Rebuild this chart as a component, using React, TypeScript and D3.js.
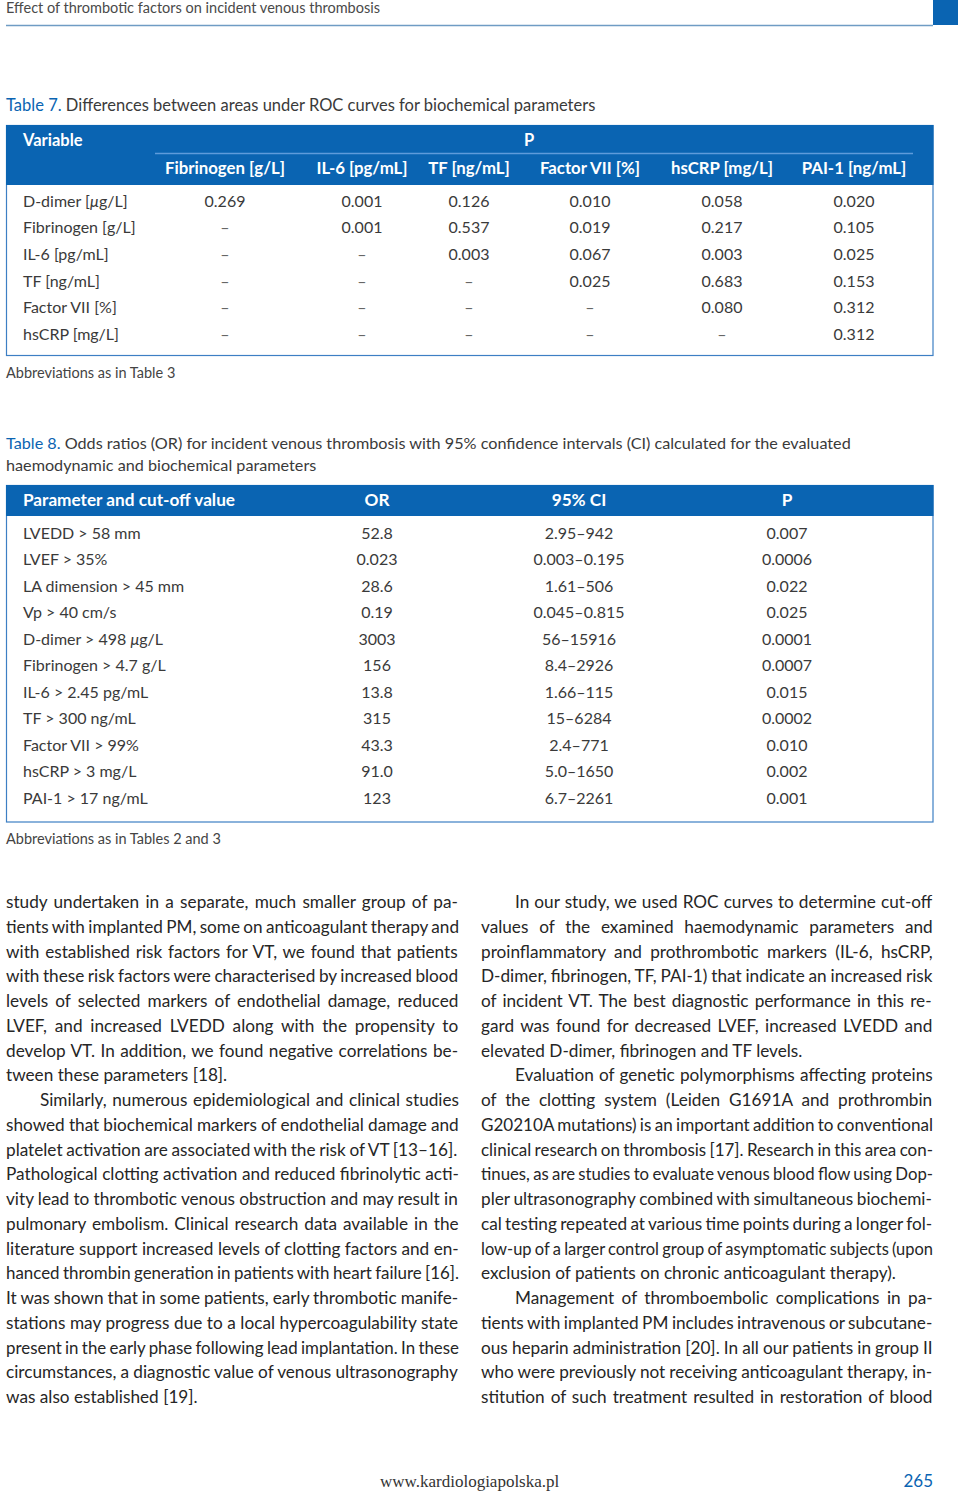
import React from "react";
import * as d3 from "d3";

// ---------- data ----------
const runningHead = "Effect of thrombotic factors on incident venous thrombosis";

const t7Label = "Table 7.";
const t7Title = "Differences between areas under ROC curves for biochemical parameters";
const t7Columns = ["Fibrinogen [g/L]", "IL-6 [pg/mL]", "TF [ng/mL]", "Factor VII [%]", "hsCRP [mg/L]", "PAI-1 [ng/mL]"];
const t7Rows = ["D-dimer [μg/L]", "Fibrinogen [g/L]", "IL-6 [pg/mL]", "TF [ng/mL]", "Factor VII [%]", "hsCRP [mg/L]"];
const t7Values = [
  ["0.269", "0.001", "0.126", "0.010", "0.058", "0.020"],
  ["–", "0.001", "0.537", "0.019", "0.217", "0.105"],
  ["–", "–", "0.003", "0.067", "0.003", "0.025"],
  ["–", "–", "–", "0.025", "0.683", "0.153"],
  ["–", "–", "–", "–", "0.080", "0.312"],
  ["–", "–", "–", "–", "–", "0.312"],
];
const t7Note = "Abbreviations as in Table 3";

const t8Label = "Table 8.";
const t8TitleLines = [
  "Odds ratios (OR) for incident venous thrombosis with 95% confidence intervals (CI) calculated for the evaluated",
  "haemodynamic and biochemical parameters",
];
const t8Headers = ["Parameter and cut-off value", "OR", "95% CI", "P"];
const t8Params = [
  "LVEDD > 58 mm", "LVEF > 35%", "LA dimension > 45 mm", "Vp > 40 cm/s", "D-dimer > 498 μg/L",
  "Fibrinogen > 4.7 g/L", "IL-6 > 2.45 pg/mL", "TF > 300 ng/mL", "Factor VII > 99%", "hsCRP > 3 mg/L", "PAI-1 > 17 ng/mL",
];
const t8OR = ["52.8", "0.023", "28.6", "0.19", "3003", "156", "13.8", "315", "43.3", "91.0", "123"];
const t8CI = ["2.95–942", "0.003–0.195", "1.61–506", "0.045–0.815", "56–15916", "8.4–2926", "1.66–115", "15–6284", "2.4–771", "5.0–1650", "6.7–2261"];
const t8P = ["0.007", "0.0006", "0.022", "0.025", "0.0001", "0.0007", "0.015", "0.0002", "0.010", "0.002", "0.001"];
const t8Note = "Abbreviations as in Tables 2 and 3";

// body text lines: [text, indent, lastLineOfParagraph]
const leftLines: [string, boolean, boolean][] = [
  ["study undertaken in a separate, much smaller group of pa-", false, false],
  ["tients with implanted PM, some on anticoagulant therapy and", false, false],
  ["with established risk factors for VT, we found that patients", false, false],
  ["with these risk factors were characterised by increased blood", false, false],
  ["levels of selected markers of endothelial damage, reduced", false, false],
  ["LVEF, and increased LVEDD along with the propensity to", false, false],
  ["develop VT. In addition, we found negative correlations be-", false, false],
  ["tween these parameters [18].", false, true],
  ["Similarly, numerous epidemiological and clinical studies", true, false],
  ["showed that biochemical markers of endothelial damage and", false, false],
  ["platelet activation are associated with the risk of VT [13–16].", false, false],
  ["Pathological clotting activation and reduced fibrinolytic acti-", false, false],
  ["vity lead to thrombotic venous obstruction and may result in", false, false],
  ["pulmonary embolism. Clinical research data available in the", false, false],
  ["literature support increased levels of clotting factors and en-", false, false],
  ["hanced thrombin generation in patients with heart failure [16].", false, false],
  ["It was shown that in some patients, early thrombotic manife-", false, false],
  ["stations may progress due to a local hypercoagulability state", false, false],
  ["present in the early phase following lead implantation. In these", false, false],
  ["circumstances, a diagnostic value of venous ultrasonography", false, false],
  ["was also established [19].", false, true],
];
const rightLines: [string, boolean, boolean][] = [
  ["In our study, we used ROC curves to determine cut-off", true, false],
  ["values of the examined haemodynamic parameters and", false, false],
  ["proinflammatory and prothrombotic markers (IL-6, hsCRP,", false, false],
  ["D-dimer, fibrinogen, TF, PAI-1) that indicate an increased risk", false, false],
  ["of incident VT. The best diagnostic performance in this re-", false, false],
  ["gard was found for decreased LVEF, increased LVEDD and", false, false],
  ["elevated D-dimer, fibrinogen and TF levels.", false, true],
  ["Evaluation of genetic polymorphisms affecting proteins", true, false],
  ["of the clotting system (Leiden G1691A and prothrombin", false, false],
  ["G20210A mutations) is an important addition to conventional", false, false],
  ["clinical research on thrombosis [17]. Research in this area con-", false, false],
  ["tinues, as are studies to evaluate venous blood flow using Dop-", false, false],
  ["pler ultrasonography combined with simultaneous biochemi-", false, false],
  ["cal testing repeated at various time points during a longer fol-", false, false],
  ["low-up of a larger control group of asymptomatic subjects (upon", false, false],
  ["exclusion of patients on chronic anticoagulant therapy).", false, true],
  ["Management of thromboembolic complications in pa-", true, false],
  ["tients with implanted PM includes intravenous or subcutane-", false, false],
  ["ous heparin administration [20]. In all our patients in group II", false, false],
  ["who were previously not receiving anticoagulant therapy, in-", false, false],
  ["stitution of such treatment resulted in restoration of blood", false, false],
];
const footerUrl = "www.kardiologiapolska.pl";
const pageNumber = "265";

// ---------- style ----------
const BLUE = "#0a64b2";
const TEXT = "#3a3a3a";
const BODY = "#262626";
const SANS = "Lato, 'Open Sans', sans-serif";
const BODY_SIZE = 17.2;
const MIN_WS = 2.2;

let _ctx: CanvasRenderingContext2D | null = null;
function measure(text: string, font: string): number {
  if (!_ctx) _ctx = document.createElement("canvas").getContext("2d");
  if (!_ctx) return text.length * 8;
  _ctx.font = font;
  return _ctx.measureText(text).width;
}

function MuText({ s }: { s: string }) {
  const parts = s.split("μ");
  return (
    <>
      {parts.map((p, i) => (
        <React.Fragment key={i}>
          {i > 0 && <tspan fontStyle="italic">μ</tspan>}
          {p}
        </React.Fragment>
      ))}
    </>
  );
}

function Column({ lines, x0, x1, indent }: { lines: [string, boolean, boolean][]; x0: number; x1: number; indent: number }) {
  const y = d3.scaleLinear().domain([0, lines.length - 1]).range([908, 1403]);
  const font = `${BODY_SIZE}px Lato`;
  return (
    <g fontFamily={SANS} fontSize={BODY_SIZE} fill={BODY}>
      {lines.map(([t, ind, last], i) => {
        const xs = ind ? x0 + indent : x0;
        const target = x1 - xs;
        if (last) {
          return <text key={i} x={xs} y={y(i)}>{t}</text>;
        }
        const nat = measure(t, font);
        const spaces = (t.match(/ /g) || []).length;
        const ws = spaces > 0 ? (target - nat) / spaces : 0;
        if (ws >= MIN_WS - 4.3 && ws >= -1.2) {
          return (
            <text key={i} x={xs} y={y(i)} style={{ wordSpacing: `${ws}px` }}>
              {t}
            </text>
          );
        }
        // too long: keep a small word spacing and compress glyphs slightly
        return (
          <text key={i} x={xs} y={y(i)} style={{ wordSpacing: "-1px" }} textLength={target} lengthAdjust="spacingAndGlyphs">
            {t}
          </text>
        );
      })}
    </g>
  );
}

export default function App() {
  // Table 7 scales
  const x7 = d3.scaleOrdinal<string, number>().domain(t7Columns).range([225, 362, 469, 590, 722, 854]);
  const y7 = d3.scaleLinear().domain([0, t7Rows.length - 1]).range([206.7, 340]);
  // Table 8 scales
  const x8 = d3.scaleOrdinal<string, number>().domain(t8Headers.slice(1)).range([377, 579, 787]);
  const y8 = d3.scaleLinear().domain([0, t8Params.length - 1]).range([538.5, 803.5]);

  return (
    <svg
      width={960}
      height={1493}
      viewBox="0 0 960 1493"
      style={{ position: "absolute", left: 0, top: 0, background: "#fff" }}
    >
      <rect x={0} y={0} width={960} height={1493} fill="#fff" />
      {/* running head */}
      <text x={6} y={12.5} fontFamily={SANS} fontSize={14.5} fill="#4a4a4a">{runningHead}</text>
      <line x1={6} x2={933} y1={25.5} y2={25.5} stroke="#6f9cc4" strokeWidth={1.6} />
      <rect x={933} y={0} width={25} height={25} fill={BLUE} />

      {/* Table 7 */}
      <text x={6} y={111} fontFamily={SANS} fontSize={16.5} fill={TEXT}>
        <tspan fill={BLUE}>{t7Label}</tspan> {t7Title}
      </text>
      <rect x={6.5} y={125.5} width={926.5} height={230} fill="none" stroke="#3d7fc4" strokeWidth={1.2} />
      <rect x={6} y={125} width={927.5} height={60} fill={BLUE} />
      <text x={23} y={146} fontFamily={SANS} fontWeight={700} fontSize={16.5} fill="#fff">Variable</text>
      <text x={529} y={146} fontFamily={SANS} fontWeight={700} fontSize={16.5} fill="#fff" textAnchor="middle">P</text>
      <line x1={155} x2={913} y1={153.5} y2={153.5} stroke="#5e9bdb" strokeWidth={1.3} />
      {t7Columns.map((c) => (
        <text key={c} x={x7(c)} y={174} fontFamily={SANS} fontWeight={700} fontSize={16.8} fill="#fff" textAnchor="middle">
          {c}
        </text>
      ))}
      {t7Rows.map((r, i) => (
        <g key={r} fontFamily={SANS} fontSize={16} fill={TEXT}>
          <text x={23} y={y7(i)}><MuText s={r} /></text>
          {t7Values[i].map((v, j) => (
            <text key={j} x={x7(t7Columns[j])} y={y7(i)} textAnchor="middle" fill={v === "–" ? "#666" : TEXT}>
              {v}
            </text>
          ))}
        </g>
      ))}
      <text x={6} y={378} fontFamily={SANS} fontSize={14.5} fill="#444">{t7Note}</text>

      {/* Table 8 */}
      <text x={6} y={449} fontFamily={SANS} fontSize={16.2} fill={TEXT}>
        <tspan fill={BLUE}>{t8Label}</tspan> {t8TitleLines[0]}
      </text>
      <text x={6} y={471} fontFamily={SANS} fontSize={16.2} fill={TEXT}>{t8TitleLines[1]}</text>
      <rect x={6.5} y={485.5} width={926.5} height={336.5} fill="none" stroke="#3d7fc4" strokeWidth={1.2} />
      <rect x={6} y={485} width={927.5} height={31} fill={BLUE} />
      <text x={23} y={506} fontFamily={SANS} fontWeight={700} fontSize={17.2} fill="#fff">{t8Headers[0]}</text>
      {t8Headers.slice(1).map((h) => (
        <text key={h} x={x8(h)} y={506} fontFamily={SANS} fontWeight={700} fontSize={17.2} fill="#fff" textAnchor="middle">
          {h}
        </text>
      ))}
      {t8Params.map((p, i) => (
        <g key={p} fontFamily={SANS} fontSize={16} fill={TEXT}>
          <text x={23} y={y8(i)}><MuText s={p} /></text>
          <text x={x8("OR")} y={y8(i)} textAnchor="middle">{t8OR[i]}</text>
          <text x={x8("95% CI")} y={y8(i)} textAnchor="middle">{t8CI[i]}</text>
          <text x={x8("P")} y={y8(i)} textAnchor="middle">{t8P[i]}</text>
        </g>
      ))}
      <text x={6} y={844} fontFamily={SANS} fontSize={14.5} fill="#444">{t8Note}</text>

      {/* body text */}
      <Column lines={leftLines} x0={6} x1={459} indent={34} />
      <Column lines={rightLines} x0={481} x1={933} indent={34} />

      {/* footer */}
      <text x={380} y={1487} fontFamily="'Liberation Serif', 'DejaVu Serif', serif" fontSize={17} fill="#333">{footerUrl}</text>
      <text x={933} y={1487} fontFamily={SANS} fontSize={17} fill={BLUE} textAnchor="end">{pageNumber}</text>
    </svg>
  );
}
